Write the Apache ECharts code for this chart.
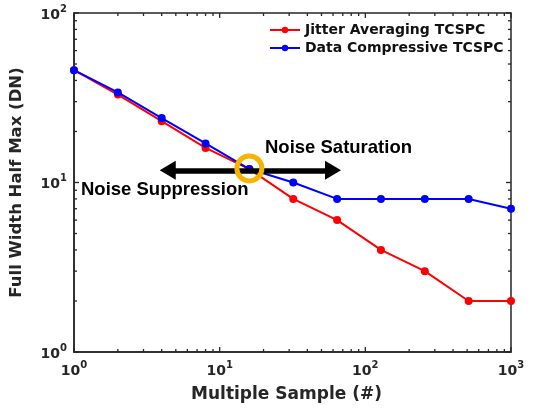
<!DOCTYPE html>
<html>
<head>
<meta charset="utf-8">
<script src="https://cdn.jsdelivr.net/npm/echarts@6/dist/echarts.min.js"></script>
<style>html,body{margin:0;padding:0;background:#fff;}#chart{width:534px;height:410px;}</style>
</head>
<body>
<div id="chart"></div>
<script>
var samples = [1, 2, 4, 8, 16, 32, 64, 128, 256, 512, 1000];
var jitterAveraging = [46, 33, 23, 16, 12, 8, 6, 4, 3, 2, 2];
var dataCompressive = [46, 34, 24, 17, 12, 10, 8, 8, 8, 8, 7];
var xMajorTicks = [1, 10, 100, 1000];
var yMajorTicks = [1, 10, 100];
var xMinorTicks = [2,3,4,5,6,7,8,9,20,30,40,50,60,70,80,90,200,300,400,500,600,700,800,900];
var yMinorTicks = [2,3,4,5,6,7,8,9,20,30,40,50,60,70,80,90];

var axisColor = '#262626';
var tickData = [];
xMajorTicks.forEach(function (v) { tickData.push([v, 1, 'x', 5]); });
xMinorTicks.forEach(function (v) { tickData.push([v, 1, 'x', 3]); });
yMajorTicks.forEach(function (v) { tickData.push([1, v, 'y', 5]); });
yMinorTicks.forEach(function (v) { tickData.push([1, v, 'y', 3]); });

function expLabel(v) {
  var e = Math.round(Math.log(v) / Math.LN10);
  return '{b|10}{s|' + e + '}';
}
var labelRich = {
  b: { fontFamily: 'DejaVu Sans', fontWeight: 'bold', fontSize: 14, color: axisColor, verticalAlign: 'bottom' },
  s: { fontFamily: 'DejaVu Sans', fontWeight: 'bold', fontSize: 10, color: axisColor, verticalAlign: 'top', padding: [0, 0, 8, 0] }
};

var chart = echarts.init(document.getElementById('chart'));
var option = {
  animation: false,
  grid: { left: 72, right: 23, top: 13, bottom: 58, show: true, borderColor: axisColor, borderWidth: 1.5, backgroundColor: 'transparent' },
  legend: {
    data: ['Jitter Averaging TCSPC', 'Data Compressive TCSPC'],
    orient: 'vertical',
    left: 269, top: 23, padding: 0,
    itemWidth: 30, itemHeight: 8, itemGap: 4,
    textStyle: { fontFamily: 'DejaVu Sans', fontWeight: 'bold', fontSize: 14, color: '#111' }
  },
  xAxis: {
    type: 'log', logBase: 10, min: 1, max: 1000,
    name: 'Multiple Sample (#)', nameLocation: 'middle', nameGap: 34,
    nameTextStyle: { fontFamily: 'DejaVu Sans', fontWeight: 'bold', fontSize: 17, color: axisColor, padding: [0, 12, 0, 0] },
    axisLine: { show: true, lineStyle: { color: axisColor, width: 1.5 } },
    axisTick: { show: false }, splitLine: { show: false }, minorTick: { show: false },
    axisLabel: { margin: 8, formatter: expLabel, rich: labelRich }
  },
  yAxis: {
    type: 'log', logBase: 10, min: 1, max: 100,
    name: 'Full Width Half Max (DN)', nameLocation: 'middle', nameGap: 49,
    nameTextStyle: { fontFamily: 'DejaVu Sans', fontWeight: 'bold', fontSize: 16.5, color: axisColor },
    axisLine: { show: true, lineStyle: { color: axisColor, width: 1.5 } },
    axisTick: { show: false }, splitLine: { show: false }, minorTick: { show: false },
    axisLabel: { margin: 7, formatter: expLabel, rich: labelRich }
  },
  series: [
    {
      type: 'custom', name: 'ticks', silent: true, clip: false, z: 1,
      data: tickData,
      renderItem: function (params, api) {
        var axis = api.value(2), len = api.value(3);
        var lines = [];
        var style = { stroke: axisColor, lineWidth: 1.3 };
        if (axis === 'x') {
          var b = api.coord([api.value(0), 1]);
          var t = api.coord([api.value(0), 100]);
          lines.push({ type: 'line', shape: { x1: b[0], y1: b[1], x2: b[0], y2: b[1] - len }, style: style });
          lines.push({ type: 'line', shape: { x1: t[0], y1: t[1], x2: t[0], y2: t[1] + len }, style: style });
        } else {
          var l = api.coord([1, api.value(1)]);
          var r = api.coord([1000, api.value(1)]);
          lines.push({ type: 'line', shape: { x1: l[0], y1: l[1], x2: l[0] + len, y2: l[1] }, style: style });
          lines.push({ type: 'line', shape: { x1: r[0], y1: r[1], x2: r[0] - len, y2: r[1] }, style: style });
        }
        return { type: 'group', children: lines };
      }
    },
    {
      name: 'Jitter Averaging TCSPC', type: 'line', z: 3,
      data: samples.map(function (x, i) { return [x, jitterAveraging[i]]; }),
      symbol: 'circle', symbolSize: 8,
      lineStyle: { color: '#ff0000', width: 2 }, itemStyle: { color: '#ff0000' }
    },
    {
      name: 'Data Compressive TCSPC', type: 'line', z: 4,
      data: samples.map(function (x, i) { return [x, dataCompressive[i]]; }),
      symbol: 'circle', symbolSize: 8,
      lineStyle: { color: '#0000ff', width: 2 }, itemStyle: { color: '#0000ff' },
      markLine: {
        silent: true, z: 5,
        symbol: ['triangle', 'triangle'], symbolSize: [19, 16],
        label: { show: false },
        lineStyle: { color: '#000', width: 5.5, type: 'solid' },
        data: [[{ coord: [4.4, 11.8] }, { coord: [60, 11.8] }]]
      },
      markPoint: {
        silent: true, z: 6,
        symbol: 'circle', symbolSize: 25,
        itemStyle: { color: 'rgba(0,0,0,0)', borderColor: '#f5b400', borderWidth: 5 },
        label: { show: false },
        data: [{ coord: [16, 12.1] }]
      }
    }
  ],
  graphic: [
    { type: 'text', left: 265, top: 138, style: { text: 'Noise Saturation', fontFamily: 'Liberation Sans', fontWeight: 'bold', fontSize: 18.5, fill: '#000' } },
    { type: 'text', left: 81, top: 180, style: { text: 'Noise Suppression', fontFamily: 'Liberation Sans', fontWeight: 'bold', fontSize: 18.5, fill: '#000' } }
  ]
};
chart.setOption(option);
</script>
</body>
</html>
